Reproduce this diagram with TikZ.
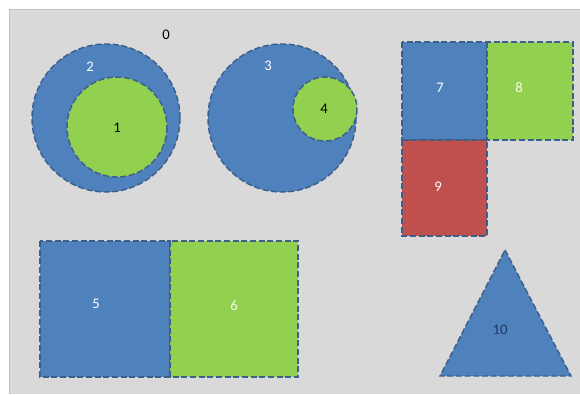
\documentclass[tikz,border=0pt]{standalone}
\usepackage{fontspec}
\setmainfont{Carlito}
\definecolor{bgray}{HTML}{D9D9D9}
\definecolor{sblue}{HTML}{4F81BD}
\definecolor{sgreen}{HTML}{92D050}
\definecolor{sred}{HTML}{C0504D}
\definecolor{edge}{HTML}{3D5F8C}
\definecolor{navy}{HTML}{1F3864}
\tikzset{
  shapeedge/.style={draw=edge, line width=1.1pt, dash pattern=on 4.5pt off 2pt},
  bluefill/.style={shapeedge, fill=sblue},
  greenfill/.style={shapeedge, fill=sgreen},
  redfill/.style={shapeedge, fill=sred},
  lbl/.style={font=\fontsize{11}{13}\selectfont, inner sep=0pt},
}
\begin{document}
\begin{tikzpicture}[x=0.75pt,y=-0.75pt]
\useasboundingbox (0,0) rectangle (580,394);
\fill[white] (0,0) rectangle (580,394);
\fill[bgray] (9,9) rectangle (580,394);
\draw[color=black!25, line width=0.8pt] (9.5,394) -- (9.5,9.5) -- (580,9.5);
% circles 2 and 1
\draw[bluefill] (106,118) circle (74);
\draw[greenfill] (117,127) circle (50);
% circles 3 and 4
\draw[bluefill] (282,118) circle (74);
\draw[greenfill] (325,109) circle (32);
% squares 7 8 9
\draw[bluefill] (402,42) rectangle (487,140);
\draw[greenfill] (487,42) rectangle (573,140);
\draw[redfill] (402,140) rectangle (487,236);
% rectangles 5 6
\draw[bluefill] (40,241) rectangle (170,377);
\draw[greenfill] (170,241) rectangle (298,377);
% triangle 10
\draw[bluefill] (505,250) -- (571,376) -- (440,376) -- cycle;
% labels
\node[lbl, text=black] (l0) at (166,35) {0};
\node[lbl, text=black] (l1) at (117,128) {1};
\node[lbl, text=white] (l2) at (90,67) {2};
\node[lbl, text=white] (l3) at (268,66) {3};
\node[lbl, text=black] (l4) at (324,109) {4};
\node[lbl, text=white] (l5) at (96,304) {5};
\node[lbl, text=white!92!sgreen] (l6) at (234,306) {6};
\node[lbl, text=white] (l7) at (440,88) {7};
\node[lbl, text=white!92!sgreen] (l8) at (519,88) {8};
\node[lbl, text=white] (l9) at (438,187) {9};
\node[lbl, text=navy] (l10) at (500,330) {10};
\end{tikzpicture}
\end{document}
